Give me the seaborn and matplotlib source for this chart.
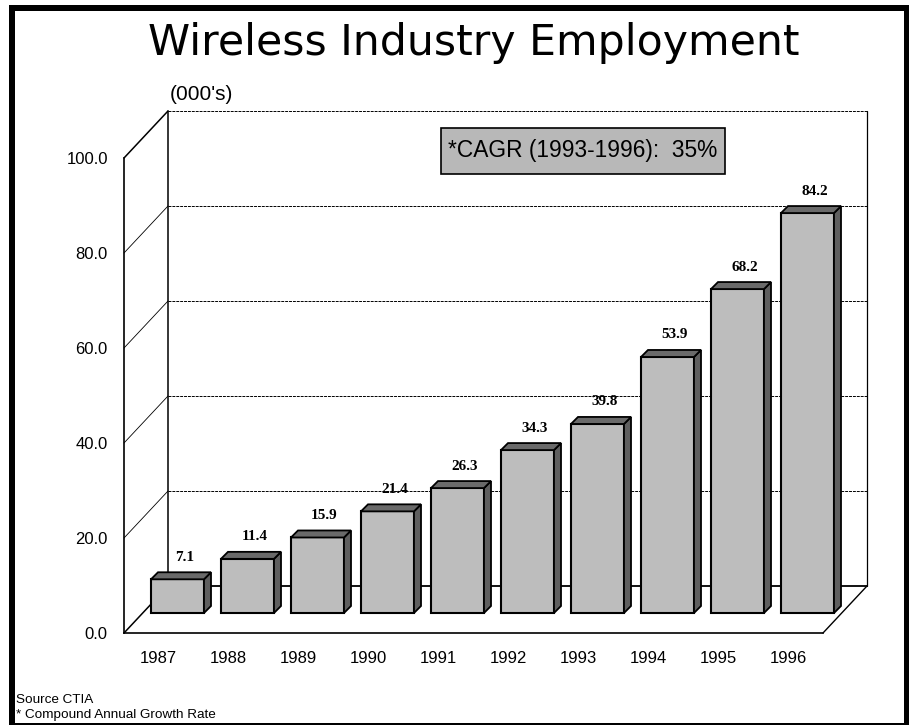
import matplotlib
matplotlib.use("Agg")
import matplotlib.pyplot as plt
from matplotlib.patches import Polygon, Rectangle
import seaborn as sns
import pandas as pd

years = ["1987", "1988", "1989", "1990", "1991", "1992", "1993", "1994", "1995", "1996"]
employment = [7.1, 11.4, 15.9, 21.4, 26.3, 34.3, 39.8, 53.9, 68.2, 84.2]
y_ticks = [0, 20, 40, 60, 80, 100]
y_labels = ["0.0", "20.0", "40.0", "60.0", "80.0", "100.0"]
title = "Wireless Industry Employment"
unit_label = "(000's)"
callout = "*CAGR (1993-1996):  35%"
footnotes = ["Source CTIA", "* Compound Annual Growth Rate"]

W, H = 909, 725
sns.set_theme(style="white")
plt.rcParams["font.family"] = ["Liberation Sans", "DejaVu Sans"]
fig = plt.figure(figsize=(W / 100, H / 100), dpi=100, facecolor="white")
ax = fig.add_axes([124 / W, 1 - 633 / H, (823 - 124) / W, (633 - 158) / H])

PX_X, PX_Y = 70.0, 4.75           # pixels per category / per value unit
FLOOR = 20 / PX_Y                 # bars stand 20 px above the front floor edge
WALL_DX, WALL_DY = 44 / PX_X, 47 / PX_Y
BAR_DX, BAR_DY = 7 / PX_X, 7 / PX_Y

df = pd.DataFrame({"year": years, "employment": employment})
sns.barplot(data=df, x="year", y="employment", color="#bdbdbd", saturation=1,
            width=53 / PX_X, bottom=FLOOR, edgecolor="black", linewidth=1.5,
            ax=ax, zorder=4, err_kws={"linewidth": 0})

x0 = (124 - 177.5) / PX_X
x1 = (823 - 177.5) / PX_X
ax.set_xlim(x0, x1)
ax.set_ylim(0, 100)
ax.set_xlabel("")
ax.set_ylabel("")

# 3-D side and top of every bar, derived from the drawn bars
for patch, val in zip(list(ax.patches), employment):
    patch.set_clip_on(False)
    l, w = patch.get_x(), patch.get_width()
    r = l + w
    b = patch.get_y()
    t = b + patch.get_height()
    ax.add_patch(Polygon([(r, b), (r + BAR_DX, b + BAR_DY), (r + BAR_DX, t + BAR_DY), (r, t)],
                         closed=True, fc="#5f5f5f", ec="black", lw=1.3, zorder=4, clip_on=False))
    ax.add_patch(Polygon([(l, t), (l + BAR_DX, t + BAR_DY), (r + BAR_DX, t + BAR_DY), (r, t)],
                         closed=True, fc="#6a6a6a", ec="black", lw=1.3, zorder=4, clip_on=False))
    ax.text(l + w / 2 + BAR_DX, t + BAR_DY + 15 / PX_Y, f"{val:.1f}", ha="center", va="center",
            family="Liberation Serif", fontweight="bold", fontsize=11, color="black", zorder=6)

# back wall and floor
line = dict(color="black", clip_on=False, zorder=2)
bx0, bx1 = x0 + WALL_DX, x1 + WALL_DX
ax.plot([bx0, bx0], [WALL_DY, 100 + WALL_DY], lw=1.1, **line)
ax.plot([bx0, bx1], [WALL_DY, WALL_DY], lw=1.3, **line)
ax.plot([bx1, bx1], [WALL_DY, 100 + WALL_DY], lw=0.9, **line)
ax.plot([bx0, bx1], [100 + WALL_DY] * 2, lw=0.7, ls=(0, (3, 1)), **line)
ax.plot([x1, bx1], [0, WALL_DY], lw=1.0, **line)
for v in y_ticks:
    ax.plot([x0, bx0], [v, v + WALL_DY], lw=1.1 if v in (0, 100) else 0.6, **line)
    if 0 < v < 100:
        ax.plot([bx0, bx1], [v + WALL_DY] * 2, lw=0.7, ls=(0, (3, 1)), **line)

for s in ("top", "right"):
    ax.spines[s].set_visible(False)
for s in ("left", "bottom"):
    ax.spines[s].set_visible(True)
    ax.spines[s].set_color("black")
    ax.spines[s].set_linewidth(1.2)
ax.set_yticks(y_ticks, y_labels, fontsize=12)
ax.set_xticks([i - 19.5 / PX_X for i in range(len(years))], years, fontsize=12)
ax.tick_params(axis="both", length=0, colors="black")
ax.tick_params(axis="y", pad=11.7)
ax.tick_params(axis="x", pad=13)
ax.grid(False)

fig.text(473.5 / W, 1 - 43 / H, title, family="DejaVu Sans", fontsize=30.7, ha="center",
         va="center", color="black")
fig.text(201 / W, 1 - 94 / H, unit_label, fontsize=15, ha="center", va="center", color="black")
fig.text(583 / W, 1 - 151 / H, callout, fontsize=16.4, ha="center", va="center", color="black",
         zorder=8)
fig.add_artist(Rectangle((441 / W, 1 - 174 / H), 284 / W, 46 / H, transform=fig.transFigure,
                         fc="#b8b8b8", ec="black", lw=1.2, zorder=7))
fig.text(16 / W, 1 - 700 / H, footnotes[0], fontsize=9.7, va="center", color="black")
fig.text(16 / W, 1 - 715 / H, footnotes[1], fontsize=9.7, va="center", color="black")

# slide frame
for (px, py, pw, ph) in [(9, 5, 6, 720), (9, 5, 900, 6), (904, 5, 5, 720), (9, 723, 900, 2)]:
    fig.add_artist(Rectangle((px / W, 1 - (py + ph) / H), pw / W, ph / H,
                             transform=fig.transFigure, fc="black", ec="none", zorder=10))

fig.savefig("out.png", dpi=100)
